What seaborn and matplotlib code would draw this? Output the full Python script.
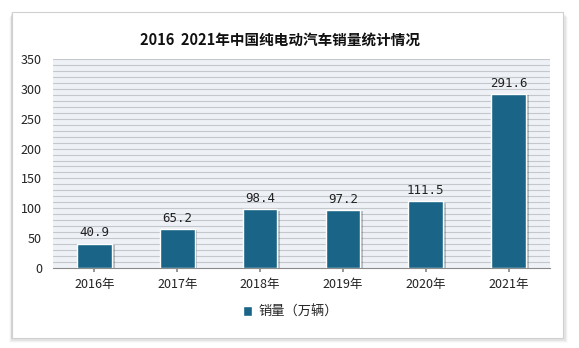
import matplotlib
matplotlib.use("Agg")
import matplotlib.pyplot as plt
import seaborn as sns
import pandas as pd
import numpy as np
from matplotlib.patches import Rectangle
import matplotlib.patheffects as pe

categories = ["2016年", "2017年", "2018年", "2019年", "2020年", "2021年"]
sales = [40.9, 65.2, 98.4, 97.2, 111.5, 291.6]
series_name = "销量（万辆）"
title = "2016  2021年中国纯电动汽车销量统计情况"
yticks = [0, 50, 100, 150, 200, 250, 300, 350]

df = pd.DataFrame({"year": categories, "value": sales, "series": series_name})

sns.set_theme(style="white")
plt.rcParams['font.family'] = ['Noto Sans CJK SC', 'DejaVu Sans']

fig = plt.figure(figsize=(5.79, 3.48), dpi=100)
fig.patch.set_facecolor("white")

# card with shadow
for i, a in enumerate([0.07, 0.05, 0.035, 0.02]):
    off = (i + 1) * 1.3
    fig.patches.append(Rectangle(((12 - off * 0.5) / 579, (10 - off) / 348), (551 + off * 1.5) / 579, 326 / 348,
                                 transform=fig.transFigure, facecolor="black", alpha=a,
                                 edgecolor="none", zorder=0))
fig.patches.append(Rectangle((12 / 579, 10 / 348), 551 / 579, 326 / 348,
                             transform=fig.transFigure, facecolor="white",
                             edgecolor="#d0d0d0", linewidth=0.8, zorder=1))

ax = fig.add_axes([53 / 579, 1 - 268 / 348, 497 / 579, 209 / 348])
ax.set_facecolor("#eef2f6")
ax.set_zorder(2)

sns.barplot(data=df, x="year", y="value", hue="series", palette=["#1a6587"],
            saturation=1, width=0.42, ax=ax, edgecolor="white", linewidth=1.0, zorder=3)

for p in ax.patches:
    p.set_path_effects([pe.SimplePatchShadow(offset=(2, -1), alpha=0.25), pe.Normal()])

ax.set_ylim(0, 350)
ax.set_yticks(yticks)
ax.set_yticklabels([str(t) for t in yticks], fontsize=9, color="#222222")
ax.tick_params(axis="x", labelsize=9, colors="#222222", length=3, pad=4)
ax.tick_params(axis="y", length=0, pad=8)
for y in range(10, 351, 10):
    ax.axhline(y, color="#c4c8cc", linewidth=0.8, zorder=1)
ax.set_xlabel("")
ax.set_ylabel("")
for s in ["left", "right", "top"]:
    ax.spines[s].set_visible(False)
ax.spines["bottom"].set_color("#8a8a8a")
ax.spines["bottom"].set_linewidth(0.8)
ax.tick_params(axis="x", bottom=True, color="#8a8a8a")

for i, v in enumerate(sales):
    ax.text(i, v + 7, f"{v}", ha="center", va="bottom", fontsize=9,
            color="#222222", family=["DejaVu Sans Mono", "DejaVu Sans"])

leg = ax.get_legend()
if leg:
    leg.remove()
handles = [Rectangle((0, 0), 1, 1, facecolor="#1a6587")]
fig.legend(handles, [series_name], loc="center", bbox_to_anchor=(0.502, 1 - 312 / 348),
           frameon=False, fontsize=9.5, handlelength=0.7, handleheight=0.7, handletextpad=0.5)

fig.text(0.484, 1 - 40 / 348, title, ha="center", va="center", fontsize=10.5,
         fontweight="bold", color="#111111")

fig.savefig("out.png", dpi=100)
